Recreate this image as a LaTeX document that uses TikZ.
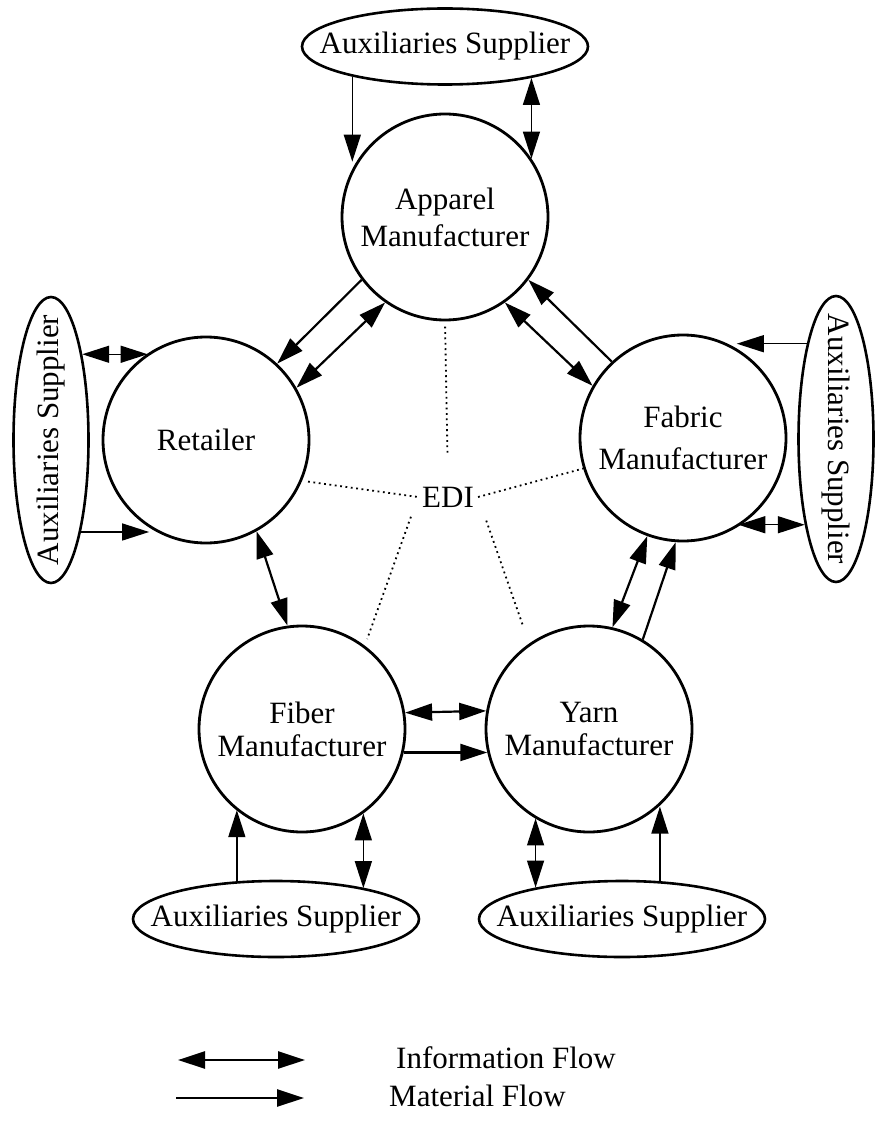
\documentclass[tikz,border=0pt]{standalone}
\usepackage{fontspec}
\setmainfont{Liberation Serif}
\usetikzlibrary{arrows.meta,shapes.geometric}

\tikzset{
  labelfont/.style={font=\fontsize{31}{37}\selectfont},
  firm/.style={circle, draw, line width=2.8pt, minimum size=206pt, inner sep=0pt,
    align=center, labelfont},
  supplier/.style={ellipse, draw, line width=2.6pt, inner sep=0pt, labelfont},
  hsup/.style={supplier, minimum width=286pt, minimum height=76pt},
  vsup/.style={supplier, minimum width=75pt, minimum height=286pt},
  info/.style={<->, line width=2.2pt},
  mat/.style={->, line width=2.2pt},
  infothin/.style={<->, line width=1.4pt},
  matthin/.style={->, line width=1.4pt},
  legendarrow/.style={line width=2.6pt},
  ediline/.style={line width=1.8pt, dash pattern=on 1.8pt off 3.6pt},
}

\begin{document}
\begin{tikzpicture}[x=1pt, y=-1pt, >={Triangle[length=27pt,width=17pt]}]
\fill[white] (0,0) rectangle (875,1139);
\useasboundingbox (0,0) rectangle (875,1139);

% the five firms of the supply chain
\node[firm] (app)  at (445,217) {Apparel\\Manufacturer};
\node[firm] (ret)  at (206,440) {Retailer};
\node[firm] (fab)  at (683,438) {Fabric\\[5pt]Manufacturer};
\node[firm] (fib)  at (302,729) {Fiber\\[-4pt]Manufacturer};
\node[firm] (yarn) at (589,729) {Yarn\\[-4pt]Manufacturer};

% auxiliaries suppliers
\node[hsup] (stop)   at (445,46.5) {\makebox[0pt]{Auxiliaries Supplier}};
\node[vsup] (sleft)  at (51,440)   {\rotatebox{90}{\makebox[0pt]{Auxiliaries Supplier}}};
\node[vsup] (sright) at (836,439)  {\rotatebox{-90}{\makebox[0pt]{Auxiliaries Supplier}}};
\node[hsup] (sfib)   at (276,919)  {\makebox[0pt]{Auxiliaries Supplier}};
\node[hsup] (syarn)  at (622,919)  {\makebox[0pt]{Auxiliaries Supplier}};

% EDI hub
\node[labelfont, inner sep=4pt] (edi) at (448,497) {EDI};
\draw[ediline, shorten <=30pt, shorten >=5pt] (edi.north) -- (app.south);
\draw[ediline, shorten <=6pt] (ret.337) -- (edi.west);
\draw[ediline] (edi.east) -- (fab.197);
\draw[ediline, shorten <=21pt, shorten >=7pt] (edi.west) -- (fib.53);
\draw[ediline, shorten <=25pt, shorten >=18pt] (edi.east) -- (yarn.125);

% flows between the firms
\draw[mat]  (app.217) -- (ret.47);
\draw[info] (app.235) -- (ret.30);
\draw[mat]  (fab.133) -- (app.323);
\draw[info] (app.305) -- (fab.150);
\draw[info] (ret.299) -- (fib.98);
\draw[info] (fib.9.5) -- (yarn.170.5);
\draw[mat]  (fib.-13) -- (yarn.193);
\draw[info] (yarn.77) -- (fab.250.5);
\draw[mat]  (yarn.59.6) -- (fab.266.7);

% flows between suppliers and firms
\draw[matthin]  (stop.198.8) -- (stop.198.8 |- app.148.7);
\draw[infothin] (stop.340.2) -- (stop.340.2 |- app.34.4);
\draw[infothin] (sleft.70.4) -- (sleft.70.4 -| ret.124.4);
\draw[matthin]  (sleft.288.9) -- (sleft.288.9 -| ret.237.7);
\draw[matthin]  (sright.107.9) -- (sright.107.9 -| fab.59.8);
\draw[infothin] (sright.250.8) -- (sright.250.8 -| fab.302.3);
\draw[matthin]  (sfib.136.1) -- (sfib.136.1 |- fib.231.6);
\draw[infothin] (fib.306.3) -- (fib.306.3 |- sfib.19.1);
\draw[infothin] (syarn.160.5) -- (syarn.160.5 |- yarn.239);
\draw[matthin]  (syarn.45.6) -- (syarn.45.6 |- yarn.312);

% legend
\coordinate (infoA) at (178,1060);
\coordinate (infoB) at (305,1060);
\coordinate (matA)  at (176,1098);
\coordinate (matB)  at (304,1098);
\draw[legendarrow, <->] (infoA) -- (infoB);
\draw[legendarrow, ->]  (matA) -- (matB);
\node[labelfont, anchor=west, inner sep=0pt] (infotext) at (396,1058) {Information Flow};
\node[labelfont, anchor=west, inner sep=0pt] (mattext)  at (389,1096) {Material Flow};
\end{tikzpicture}
\end{document}
